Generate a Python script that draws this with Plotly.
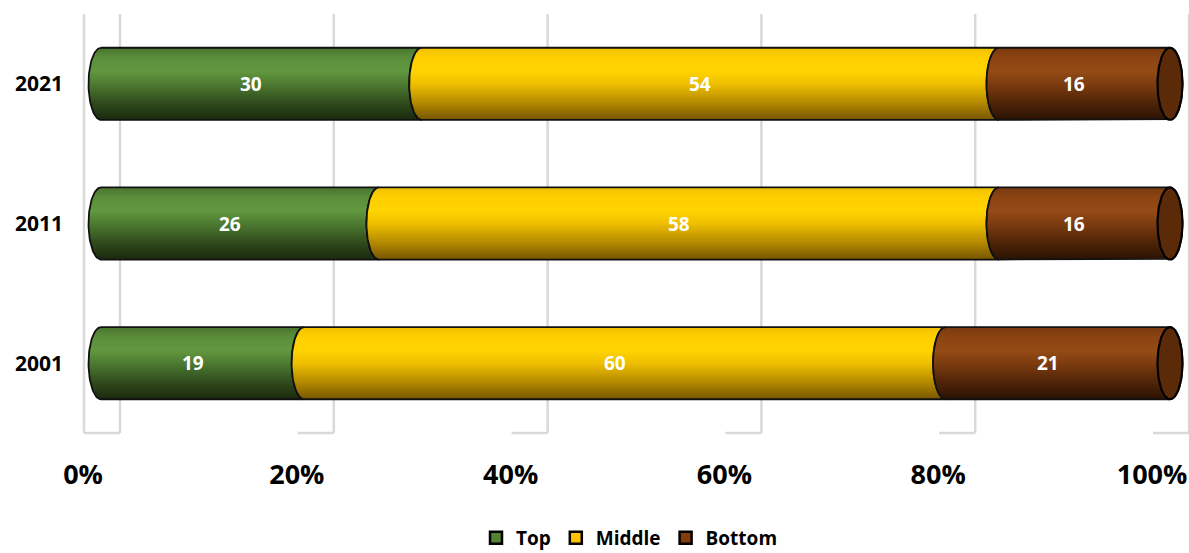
import numpy as np
import plotly.graph_objects as go

# ---- data -------------------------------------------------------------
years = ["2001", "2011", "2021"]
top = [19, 26, 30]
middle = [60, 58, 54]
bottom = [21, 16, 16]
series_names = ["Top", "Middle", "Bottom"]
x_ticks = [0, 20, 40, 60, 80, 100]
x_tick_labels = ["0%", "20%", "40%", "60%", "80%", "100%"]

# ---- styling ----------------------------------------------------------
W, H = 1189, 553
M_L, M_R, M_T, M_B = 70, 0, 0, 106
X0_PX, X100_PX = 101, 1170          # page x of 0% and 100% on the bar plane
KX = (X100_PX - X0_PX) / 100.0       # px per percent
X_RANGE = [(M_L - X0_PX) / KX, (W - M_R - X0_PX) / KX]
Y_RANGE = [-0.6, 2.6]
BAR_HALF = 0.258                     # half thickness of a cylinder (y units)
CAP_RX = 12.5 / KX                   # horizontal radius of the end ellipses
WALL_BACK = 19 / KX                  # back wall gridline offset
WALL_FRONT = -17 / KX                # front floor edge offset
GRID_COLOR = "#d9d9d9"
FONT = "Open Sans"

gradients = {
    "Top": [[0.0, "#1a2a0e"], [0.22, "#2e481b"], [0.5, "#4d7b31"],
            [0.68, "#62983f"], [0.86, "#5b8e3a"], [1.0, "#4a7430"]],
    "Middle": [[0.0, "#765600"], [0.22, "#b08600"], [0.5, "#efbf00"],
               [0.68, "#ffd400"], [0.86, "#ffcf00"], [1.0, "#f0c000"]],
    "Bottom": [[0.0, "#2b1204"], [0.22, "#4d2307"], [0.5, "#7d3c10"],
               [0.68, "#954b15"], [0.86, "#8b4412"], [1.0, "#7a3a0f"]],
}
legend_colors = {"Top": "#548235", "Middle": "#ffc000", "Bottom": "#843c0c"}
CAP_FACE = "#5a2a09"

fig = go.Figure()

# ---- back wall / floor gridlines ---------------------------------------
shapes = []
for t in x_ticks:
    shapes.append(dict(type="line", xref="x", yref="y", layer="below",
                       x0=t + WALL_BACK, x1=t + WALL_BACK, y0=-0.5, y1=2.5,
                       line=dict(color=GRID_COLOR, width=2.5)))
    shapes.append(dict(type="line", xref="x", yref="y", layer="below",
                       x0=t + WALL_FRONT, x1=t + WALL_BACK, y0=-0.5, y1=-0.5,
                       line=dict(color=GRID_COLOR, width=2.5)))
shapes.append(dict(type="line", xref="x", yref="y", layer="below",
                   x0=x_ticks[0] + WALL_FRONT, x1=x_ticks[0] + WALL_FRONT,
                   y0=-0.5, y1=2.5, line=dict(color=GRID_COLOR, width=2.5)))

# ---- cylinders --------------------------------------------------------
half_left = np.linspace(np.pi / 2, 3 * np.pi / 2, 48)
half_right = np.linspace(-np.pi / 2, np.pi / 2, 48)
full = np.linspace(0, 2 * np.pi, 96)

series = [top, middle, bottom]
annotations = []
for i, year in enumerate(years):
    c = i
    start = 0.0
    for s, (name, vals) in enumerate(zip(series_names, series)):
        a, b = start, start + vals[i]
        last = s == len(series) - 1
        # left end: front half of the ellipse (convex to the left)
        xs = list(a + CAP_RX * np.cos(half_left))
        ys = list(c + BAR_HALF * np.sin(half_left))
        if last:
            rx = b + CAP_RX * np.cos(half_right)
            ry = c + BAR_HALF * np.sin(half_right)
        else:
            rx = b + CAP_RX * np.cos(half_left[::-1])
            ry = c + BAR_HALF * np.sin(half_left[::-1])
        xs += list(rx)
        ys += list(ry)
        xs.append(xs[0])
        ys.append(ys[0])
        fig.add_trace(go.Scatter(
            x=xs, y=ys, mode="lines", fill="toself",
            fillgradient=dict(type="vertical", colorscale=gradients[name]),
            line=dict(color="#111111", width=1.8),
            hoverinfo="skip", showlegend=False))
        if last:
            fig.add_trace(go.Scatter(
                x=b + CAP_RX * np.cos(full), y=c + BAR_HALF * np.sin(full),
                mode="lines", fill="toself", fillcolor=CAP_FACE,
                line=dict(color="#000000", width=2.2),
                hoverinfo="skip", showlegend=False))
        annotations.append(dict(
            x=(a + b) / 2, y=c, xref="x", yref="y", text=str(vals[i]),
            showarrow=False, xshift=-10,
            font=dict(family=FONT, size=19, color="white", weight="bold")))
        start = b

# legend entries
for name in series_names:
    fig.add_trace(go.Bar(
        x=[None], y=[None], orientation="h", name=name,
        marker=dict(color=legend_colors[name], line=dict(color="black", width=2.5))))

fig.update_layout(
    width=W, height=H,
    margin=dict(l=M_L, r=M_R, t=M_T, b=M_B, autoexpand=False),
    paper_bgcolor="white", plot_bgcolor="white",
    shapes=shapes, annotations=annotations,
    xaxis=dict(range=X_RANGE, tickvals=x_ticks, ticktext=x_tick_labels,
               showgrid=False, zeroline=False, showline=False, ticks="",
               ticklabelshift=-18, ticklabelstandoff=9,
               ticklabeloverflow="allow",
               tickfont=dict(family=FONT, size=27, color="black", weight="bold")),
    yaxis=dict(range=Y_RANGE, tickvals=list(range(len(years))), ticktext=years,
               showgrid=False, zeroline=False, showline=False, ticks="",
               ticklabelstandoff=6,
               tickfont=dict(family=FONT, size=21, color="black", weight="bold")),
    legend=dict(orientation="h", x=0.5, xanchor="center",
                yref="container", y=(H - 538) / H, yanchor="middle",
                font=dict(family=FONT, size=19, color="black", weight="bold"),
                itemwidth=30, traceorder="normal"),
    showlegend=True,
)

fig.write_html("out.html")
